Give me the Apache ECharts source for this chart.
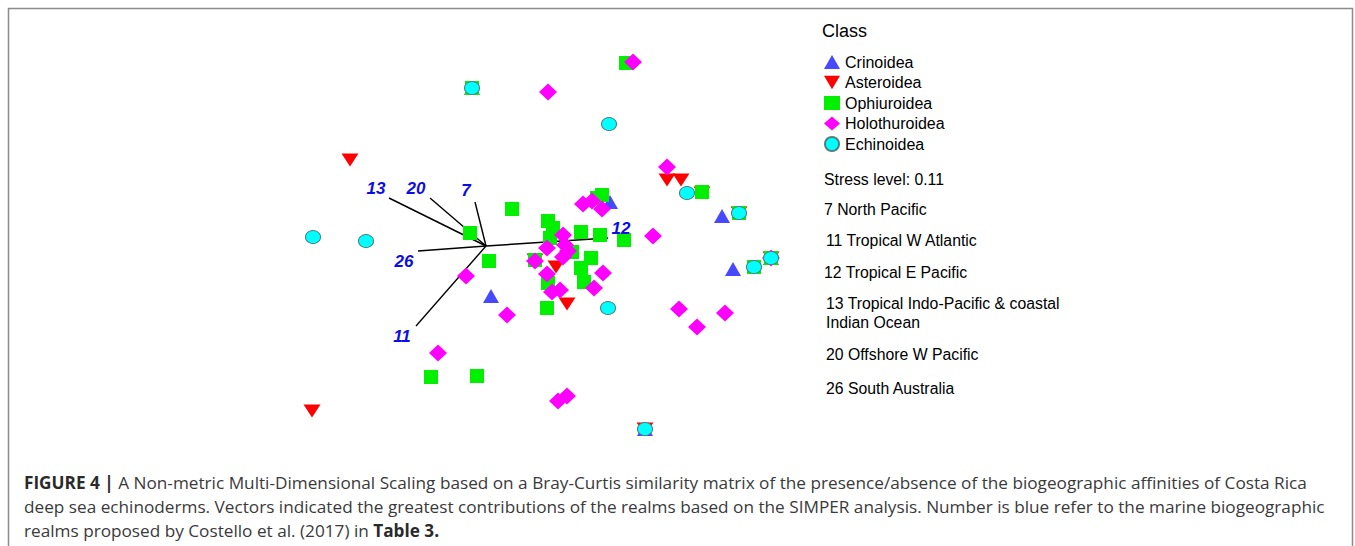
<!DOCTYPE html>
<html>
<head>
<meta charset="utf-8">
<script src="https://cdn.jsdelivr.net/npm/echarts@6/dist/echarts.min.js"></script>
<style>
  html, body { margin: 0; padding: 0; background: #fff; }
  #chart { width: 1355px; height: 546px; }
</style>
</head>
<body>
<div id="chart"></div>
<script>
// NMDS scores (axis 1, axis 2)
var crinoidea = [[-0.14, 1.58], [1.24, 0.44], [2.36, 0.30], [2.47, -0.23], [0.05, -0.50], [2.85, -0.12], [1.59, -1.83]]
var asteroidea = [[-1.36, 0.86], [1.81, 0.66], [1.95, 0.66], [2.16, 0.53], [2.53, 0.33], [2.85, -0.12], [0.70, -0.21],
  [0.81, -0.58], [-1.74, -1.65], [1.59, -1.83], [0.49, -0.14]]
var ophiuroidea = [[1.40, 1.83], [-0.14, 1.58], [0.26, 0.37], [0.62, 0.25], [0.67, 0.18], [0.64, 0.08], [0.95, 0.14],
  [1.14, 0.11], [1.38, 0.06], [1.11, 0.48], [1.16, 0.51], [2.16, 0.54], [2.53, 0.33], [2.85, -0.12], [2.68, -0.21],
  [-0.16, 0.13], [0.03, -0.15], [0.49, -0.14], [0.86, -0.06], [1.05, -0.12], [0.95, -0.22], [0.98, -0.36],
  [0.62, -0.37], [0.61, -0.62], [-0.55, -1.31], [-0.09, -1.30]]
var holothuroidea = [[1.47, 1.84], [0.62, 1.54], [1.81, 0.79], [0.97, 0.42], [1.06, 0.45], [1.16, 0.37], [1.67, 0.10],
  [0.77, 0.11], [0.61, -0.02], [0.79, 0.01], [0.82, -0.05], [0.77, -0.11], [0.49, -0.15], [0.61, -0.28],
  [1.17, -0.27], [0.66, -0.46], [0.74, -0.44], [1.08, -0.42], [-0.20, -0.30], [0.21, -0.69], [1.93, -0.63],
  [2.39, -0.67], [2.11, -0.81], [-0.48, -1.07], [0.72, -1.55], [0.81, -1.50], [2.85, -0.12]]
var echinoidea = [[-0.14, 1.58], [1.23, 1.22], [2.01, 0.53], [2.53, 0.33], [2.85, -0.12], [2.68, -0.21],
  [-1.73, 0.09], [-1.20, 0.05], [1.22, -0.62], [1.59, -1.83]]

// SIMPER vectors (realm number, arrow tip, label spot)
var realms = ['7', '11', '12', '13', '20', '26']
var vectorEnds = [[-0.11, 0.44], [-0.70, -0.80], [1.22, 0.08], [-0.97, 0.48], [-0.56, 0.48], [-0.68, -0.05]]
var labelSpots = [[-0.20, 0.56], [-0.84, -0.90], [1.35, 0.18], [-1.10, 0.58], [-0.70, 0.58], [-0.82, -0.15]]

var notes = ['Stress level: 0.11', '7 North Pacific', '11 Tropical W Atlantic', '12 Tropical E Pacific',
  '13 Tropical Indo-Pacific & coastal', 'Indian Ocean', '20 Offshore W Pacific', '26 South Australia']
var captionLines = [
  '{b|FIGURE 4 |} A Non-metric Multi-Dimensional Scaling based on a Bray-Curtis similarity matrix of the presence/absence of the biogeographic affinities of Costa Rica',
  'deep sea echinoderms. Vectors indicated the greatest contributions of the realms based on the SIMPER analysis. Number is blue refer to the marine biogeographic',
  'realms proposed by Costello et al. (2017) in {b|Table 3.}'
]

var FONT = '"Liberation Sans", Arial, sans-serif'
var CAP_FONT = '"Open Sans", "Liberation Sans", sans-serif'
var downTri = 'path://M0,0L20,0L10,17Z'

var chart = echarts.init(document.getElementById('chart'), null, {renderer: 'svg'})

var noteY = [179, 209, 240, 272, 303, 322, 354, 388]
var noteX = [824, 824, 826, 824, 826, 826, 826, 826]
var graphics = [{
  type: 'rect',
  shape: {x: 8.5, y: 8.5, width: 1344, height: 600},
  style: {fill: 'none', stroke: '#8c8c8c', lineWidth: 1.5},
  silent: true
}]
notes.forEach(function (t, i) {
  graphics.push({
    type: 'text', x: noteX[i], y: noteY[i],
    style: {text: t, font: '15.8px ' + FONT, fill: '#000', verticalAlign: 'middle'}
  })
})
captionLines.forEach(function (t, i) {
  graphics.push({
    type: 'text', x: 24, y: 482 + i * 24,
    style: {
      text: t, font: '17.2px ' + CAP_FONT, fill: '#3a3a3a', verticalAlign: 'middle',
      rich: {b: {fontWeight: 'bold', fontSize: 17.2, fontFamily: CAP_FONT, fill: '#2a2a2a'}}
    }
  })
})

function pts (name, data, symbol, size, color, border) {
  return {
    name: name,
    type: 'scatter',
    data: data,
    symbol: symbol,
    symbolSize: size,
    itemStyle: {color: color, borderColor: border || color, borderWidth: border ? 1 : 0, opacity: 1},
    emphasis: {disabled: true}
  }
}

var option = {
  animation: false,
  title: {
    text: 'Class', left: 817, top: 17,
    textStyle: {fontFamily: FONT, fontSize: 18, fontWeight: 'normal', color: '#000'}
  },
  legend: {
    orient: 'vertical', left: 819, top: 49,
    itemWidth: 16, itemHeight: 14, itemGap: 4.5,
    textStyle: {fontFamily: FONT, fontSize: 16, color: '#000'},
    data: ['Crinoidea', 'Asteroidea', 'Ophiuroidea', 'Holothuroidea', 'Echinoidea']
  },
  grid: {left: 286, right: 569, top: 46, bottom: 100},
  xAxis: {type: 'value', min: -2, max: 3, show: false},
  yAxis: {type: 'value', min: -2, max: 2, show: false},
  graphic: graphics,
  series: [
    {
      type: 'lines',
      coordinateSystem: 'cartesian2d',
      silent: true,
      lineStyle: {color: '#000', width: 1.4, opacity: 1},
      data: vectorEnds.map(function (e) { return {coords: [[0, 0], e]} })
    },
    pts('Crinoidea', crinoidea, 'triangle', [16, 14], '#4848ff'),
    pts('Asteroidea', asteroidea, downTri, [17, 13], '#ff0000'),
    pts('Ophiuroidea', ophiuroidea, 'rect', [14, 14], '#00f000'),
    pts('Holothuroidea', holothuroidea, 'diamond', [18, 17], '#ff00ff'),
    pts('Echinoidea', echinoidea, 'circle', [15, 13], '#00ffff', '#4f7f7f'),
    {
      type: 'scatter',
      silent: true,
      symbolSize: 1,
      itemStyle: {color: 'rgba(0,0,0,0)', opacity: 1},
      data: labelSpots.map(function (p, i) { return {name: realms[i], value: p} }),
      label: {
        show: true, position: 'inside', formatter: '{b}', opacity: 1,
        fontFamily: 'Arial, "Liberation Sans", sans-serif', fontSize: 17, fontWeight: 'bold',
        fontStyle: 'italic', color: '#0c0ce8', textBorderWidth: 0, textShadowBlur: 0
      }
    }
  ]
}
chart.setOption(option)
</script>
</body>
</html>
